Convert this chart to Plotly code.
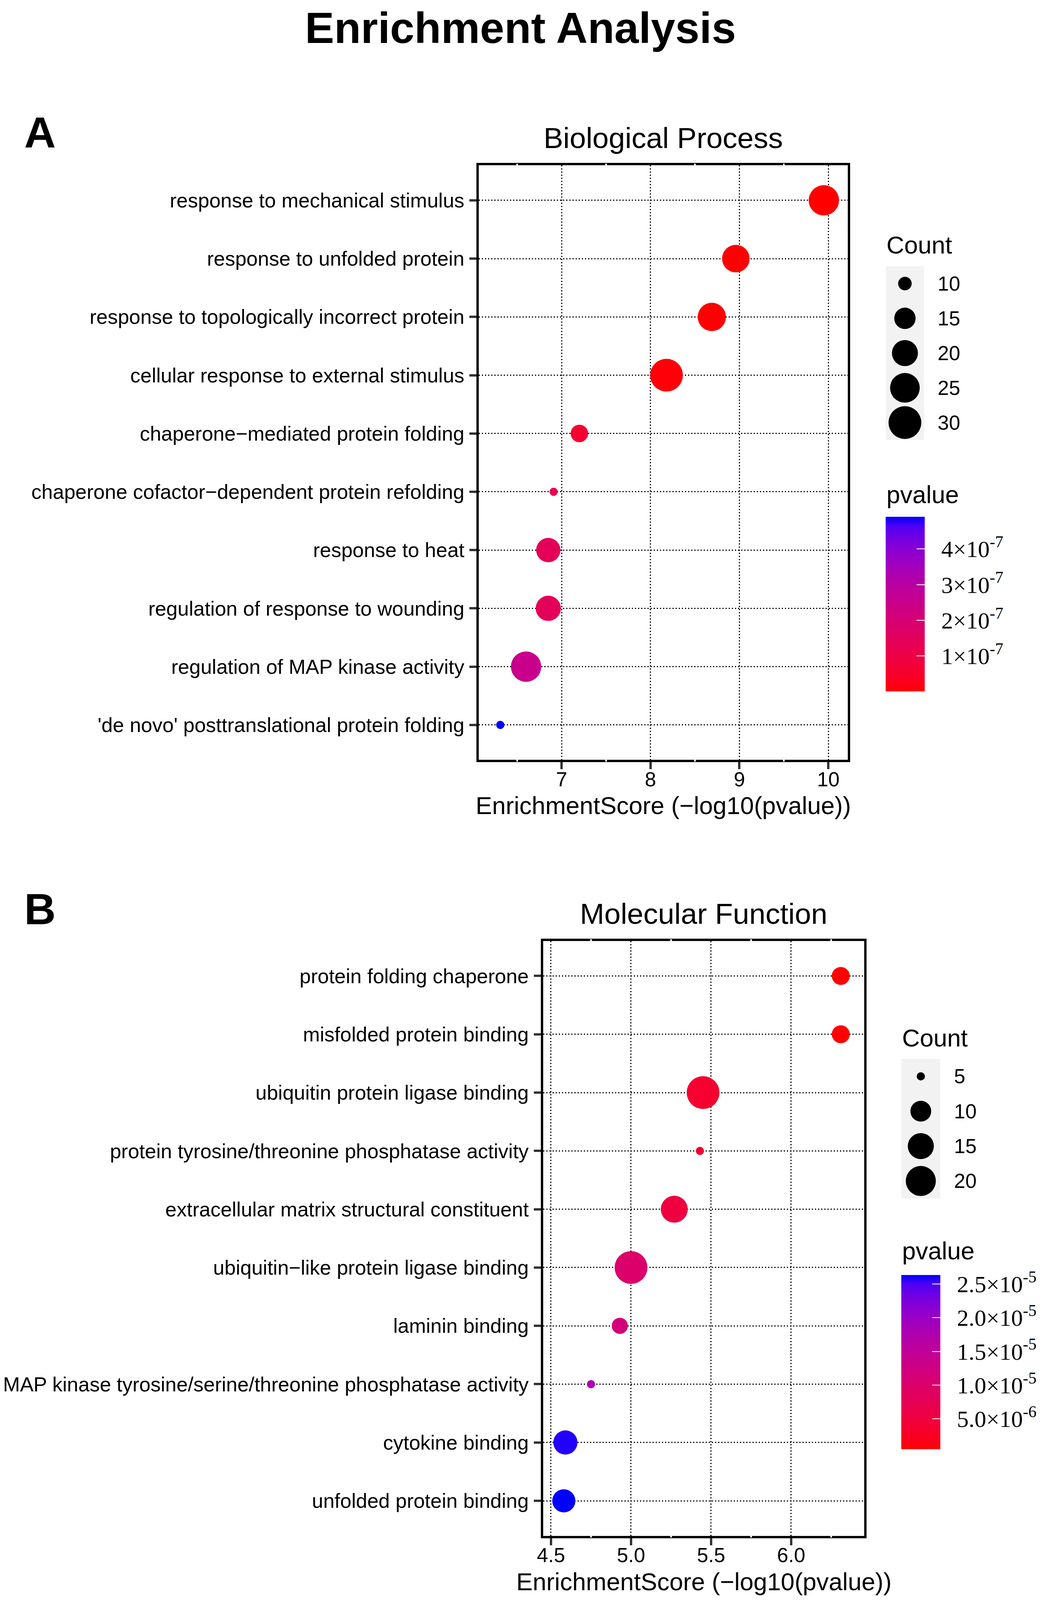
import numpy as np
import plotly.graph_objects as go

# reference canvas (all positions below are given in this pixel space)
W, H = 2676, 4586

# Biological Process
bp_terms = [
    "response to mechanical stimulus",
    "response to unfolded protein",
    "response to topologically incorrect protein",
    "cellular response to external stimulus",
    "chaperone\u2212mediated protein folding",
    "chaperone cofactor\u2212dependent protein refolding",
    "response to heat",
    "regulation of response to wounding",
    "regulation of MAP kinase activity",
    "'de novo' posttranslational protein folding",
]
bp_score = [9.95, 8.96, 8.69, 8.18, 7.20, 6.91, 6.85, 6.85, 6.60, 6.31]
bp_count = [26, 22, 23, 30, 12, 9, 18, 19, 26, 9]
bp_xticks = [7, 8, 9, 10]
bp_xlabels = ["7", "8", "9", "10"]
bp_count_breaks = [10, 15, 20, 25, 30]
bp_p_ticks = [1e-7, 2e-7, 3e-7, 4e-7]
bp_p_labels = ["1\u00d710<sup>-7</sup>", "2\u00d710<sup>-7</sup>",
               "3\u00d710<sup>-7</sup>", "4\u00d710<sup>-7</sup>"]

# Molecular Function
mf_terms = [
    "protein folding chaperone",
    "misfolded protein binding",
    "ubiquitin protein ligase binding",
    "protein tyrosine/threonine phosphatase activity",
    "extracellular matrix structural constituent",
    "ubiquitin\u2212like protein ligase binding",
    "laminin binding",
    "MAP kinase tyrosine/serine/threonine phosphatase activity",
    "cytokine binding",
    "unfolded protein binding",
]
mf_score = [6.31, 6.31, 5.45, 5.43, 5.27, 5.00, 4.93, 4.75, 4.59, 4.58]
mf_count = [8, 8, 24, 5, 16, 24, 7, 5, 13, 12]
mf_xticks = [4.5, 5.0, 5.5, 6.0]
mf_xlabels = ["4.5", "5.0", "5.5", "6.0"]
mf_count_breaks = [5, 10, 15, 20]
mf_p_ticks = [5e-6, 1e-5, 1.5e-5, 2e-5, 2.5e-5]
mf_p_labels = ["5.0\u00d710<sup>-6</sup>", "1.0\u00d710<sup>-5</sup>",
               "1.5\u00d710<sup>-5</sup>", "2.0\u00d710<sup>-5</sup>",
               "2.5\u00d710<sup>-5</sup>"]

SANS = "Liberation Sans"
SERIF = "Liberation Serif"

# red -> blue gradient interpolated in CIELAB (like ggplot's scale_colour_gradient)
M = np.array([[0.4124564, 0.3575761, 0.1804375],
              [0.2126729, 0.7151522, 0.0721750],
              [0.0193339, 0.1191920, 0.9503041]])
WHITE = np.array([0.95047, 1.0, 1.08883])


def to_lab(rgb):
    c = np.array(rgb) / 255
    lin = np.where(c <= 0.04045, c / 12.92, ((c + 0.055) / 1.055) ** 2.4)
    xyz = M @ lin / WHITE
    f = np.where(xyz > 0.008856, np.cbrt(xyz), 7.787 * xyz + 16 / 116)
    return np.array([116 * f[1] - 16, 500 * (f[0] - f[1]), 200 * (f[1] - f[2])])


def from_lab(lab):
    fy = (lab[0] + 16) / 116
    f = np.array([fy + lab[1] / 500, fy, fy - lab[2] / 200])
    xyz = np.where(f ** 3 > 0.008856, f ** 3, (f - 16 / 116) / 7.787) * WHITE
    lin = np.clip(np.linalg.inv(M) @ xyz, 0, 1)
    c = np.where(lin <= 0.0031308, 12.92 * lin, 1.055 * lin ** (1 / 2.4) - 0.055)
    r, g, b = np.round(np.clip(c, 0, 1) * 255).astype(int)
    return f"rgb({r},{g},{b})"


lab_lo, lab_hi = to_lab([255, 0, 0]), to_lab([0, 0, 255])
red_blue = [[t, from_lab((1 - t) * lab_lo + t * lab_hi)] for t in np.linspace(0, 1, 21)]


def dot_px(counts, cmin, cmax):
    # ggplot-style area scale: diameter grows with sqrt of rescaled count
    c = np.asarray(counts, dtype=float)
    return 21 + 63 * np.sqrt(np.clip((c - cmin) / (cmax - cmin), 0, 1))


def fx(px):
    return px / W


def fy(px):
    return 1 - px / H


panels = [
    dict(title="Biological Process", letter="A", terms=bp_terms, score=bp_score, count=bp_count,
         xticks=bp_xticks, xlabels=bp_xlabels, xrange=[6.07, 10.22], breaks=bp_count_breaks,
         pticks=bp_p_ticks, plabels=bp_p_labels,
         box=(1234, 474, 2197, 2178), letter_y=380,
         count_title_y=702, key_box=(2296, 763, 2396, 1261), ptitle_y=1418, cbar=(2296, 1482, 1982)),
    dict(title="Molecular Function", letter="B", terms=mf_terms, score=mf_score, count=mf_count,
         xticks=mf_xticks, xlabels=mf_xlabels, xrange=[4.452, 6.457], breaks=mf_count_breaks,
         pticks=mf_p_ticks, plabels=mf_p_labels,
         box=(1402, 2697, 2240, 4402), letter_y=2606,
         count_title_y=2975, key_box=(2337, 3035, 2438, 3435), ptitle_y=3585, cbar=(2337, 3655, 4154)),
]

fig = go.Figure()
layout = {}
annotations = [dict(text="<b>Enrichment Analysis</b>", x=fx(1343), y=fy(80), xref="paper", yref="paper",
                    xanchor="center", yanchor="middle", showarrow=False,
                    font=dict(family=SANS, size=112, color="black"))]
shapes = []

for i, p in enumerate(panels):
    ax = "" if i == 0 else str(i + 1)
    lx = str(i + 3)
    x0, y0, x1, y1 = p["box"]
    n = len(p["terms"])
    counts = np.array(p["count"])
    cmin, cmax = counts.min(), counts.max()
    pvals = 10 ** (-np.array(p["score"]))
    cx, ctop, cbot = p["cbar"]

    fig.add_trace(go.Scatter(
        x=p["score"], y=p["terms"], mode="markers", xaxis="x" + ax, yaxis="y" + ax,
        showlegend=False,
        marker=dict(size=dot_px(counts, cmin, cmax), color=pvals, colorscale=red_blue,
                    opacity=1, line_width=0, showscale=True,
                    colorbar=dict(thickness=100, thicknessmode="pixels",
                                  len=(cbot - ctop) / H, lenmode="fraction",
                                  x=fx(cx), xanchor="left", y=fy((ctop + cbot) / 2),
                                  yanchor="middle", xpad=0, ypad=0, outlinewidth=0,
                                  ticks="inside", ticklen=21, tickwidth=2, tickcolor="white",
                                  tickvals=p["pticks"],
                                  ticktext=["\u2002" + t for t in p["plabels"]],
                                  tickfont=dict(family=SERIF, size=60, color="black"))),
    ))

    axis_style = dict(showline=True, mirror=True, linecolor="black", linewidth=6,
                      ticks="outside", ticklen=18, tickwidth=6, tickcolor="#333333",
                      showgrid=True, gridcolor="black", gridwidth=3, griddash="3px,5px",
                      zeroline=False, tickfont=dict(family=SANS, size=52, color="black"))
    layout["xaxis" + ax] = dict(domain=[fx(x0), fx(x1)], range=p["xrange"], anchor="y" + ax,
                                tickvals=p["xticks"], ticktext=p["xlabels"],
                                ticklabelstandoff=-19, **axis_style)
    layout["yaxis" + ax] = dict(domain=[fy(y1), fy(y0)], type="category",
                                categoryarray=p["terms"], range=[n - 1 + 0.6, -0.6],
                                anchor="x" + ax, ticklabelstandoff=3, **axis_style)

    # white minor-break nicks on the top and bottom border
    step = p["xticks"][1] - p["xticks"][0]
    minors = [t - step / 2 for t in p["xticks"]] + [p["xticks"][-1] + step / 2]
    dy = 5 / (y1 - y0)
    for m in minors:
        if p["xrange"][0] < m < p["xrange"][1]:
            for yy in (0, 1):
                shapes.append(dict(type="line", xref="x" + ax, yref="y" + ax + " domain",
                                   x0=m, x1=m, y0=yy - dy, y1=yy + dy, layer="above",
                                   line=dict(color="white", width=4)))

    # size legend
    kx0, ky0, kx1, ky1 = p["key_box"]
    nb = len(p["breaks"])
    fig.add_trace(go.Scatter(
        x=[0.5] * nb, y=list(range(nb)), mode="markers", xaxis="x" + lx, yaxis="y" + lx,
        showlegend=False, hoverinfo="skip",
        marker=dict(size=dot_px(p["breaks"], cmin, cmax), color="black", opacity=1, line_width=0),
    ))
    layout["xaxis" + lx] = dict(domain=[fx(kx0), fx(kx1)], range=[0, 1], visible=False,
                                anchor="y" + lx)
    layout["yaxis" + lx] = dict(domain=[fy(ky1), fy(ky0)], range=[nb - 0.5, -0.5],
                                visible=False, anchor="x" + lx)
    shapes.append(dict(type="rect", xref="x" + lx + " domain", yref="y" + lx + " domain",
                       x0=0, x1=1, y0=0, y1=1, fillcolor="#F2F2F2", line_width=0, layer="below"))
    for j, b in enumerate(p["breaks"]):
        annotations.append(dict(text=str(b), x=1, y=j, xref="x" + lx + " domain", yref="y" + lx,
                                xanchor="left", yanchor="middle", xshift=33, showarrow=False,
                                font=dict(family=SANS, size=52, color="black")))

    annotations += [
        dict(text="<b>%s</b>" % p["letter"], x=fx(45), y=fy(p["letter_y"]), xref="paper",
             yref="paper", xanchor="left", yanchor="middle", showarrow=False,
             font=dict(family=SANS, size=112, color="black")),
        # panel title sits a fixed distance above the box, axis title below it
        dict(text=p["title"], x=0.5, y=1, xref="x" + ax + " domain", yref="y" + ax + " domain",
             xanchor="center", yanchor="middle", yshift=70, showarrow=False,
             font=dict(family=SANS, size=75, color="black")),
        dict(text="EnrichmentScore (\u2212log10(pvalue))", x=0.5, y=0,
             xref="x" + ax + " domain", yref="y" + ax + " domain", xanchor="center",
             yanchor="middle", yshift=-117, showarrow=False,
             font=dict(family=SANS, size=63, color="black")),
        dict(text="Count", x=fx(kx0), y=fy(p["count_title_y"]), xref="paper", yref="paper",
             xanchor="left", yanchor="middle", showarrow=False,
             font=dict(family=SANS, size=63, color="black")),
        dict(text="pvalue", x=fx(kx0), y=fy(p["ptitle_y"]), xref="paper", yref="paper",
             xanchor="left", yanchor="middle", showarrow=False,
             font=dict(family=SANS, size=63, color="black")),
    ]

fig.update_layout(
    autosize=True,
    margin=dict(l=0, r=0, t=0, b=0),
    paper_bgcolor="white", plot_bgcolor="white",
    font=dict(family=SANS, color="black"),
    annotations=annotations, shapes=shapes,
    **layout,
)

# the figure fills the browser viewport; drop the default page margin
page_js = """
document.body.style.margin = '0';
Plotly.Plots.resize(document.getElementById('{plot_id}'));
"""
fig.write_html("out.html", default_width="100vw", default_height="100vh",
               config={"displayModeBar": False}, post_script=page_js)
